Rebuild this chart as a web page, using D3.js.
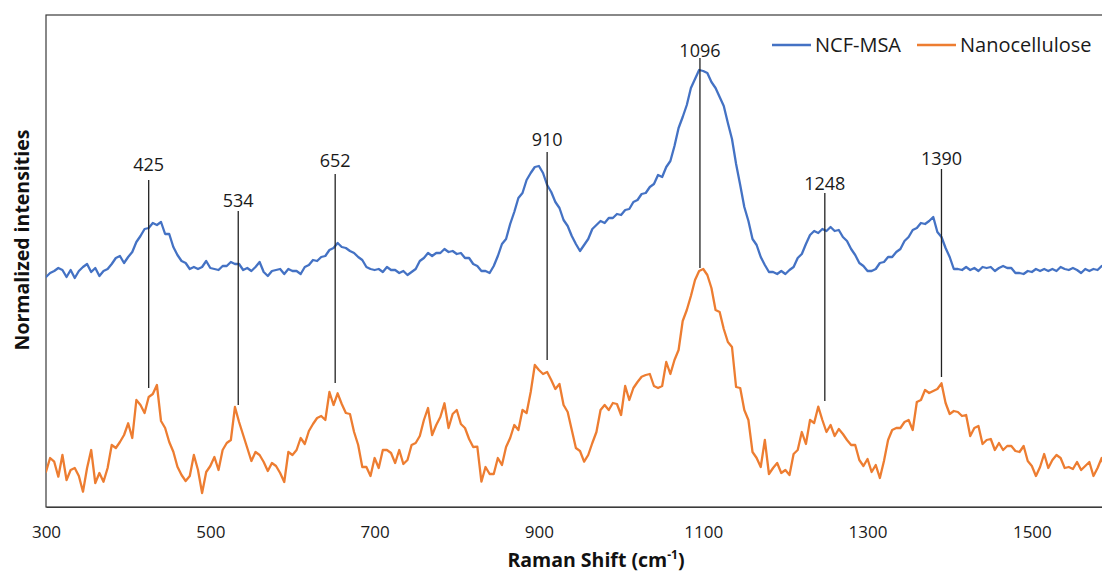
<!DOCTYPE html>
<html>
<head>
<meta charset="utf-8">
<script src="https://cdn.jsdelivr.net/npm/d3@7"></script>
<style>
  html, body { margin: 0; padding: 0; background: #fff; }
  svg { display: block; font-family: "Open Sans", "Noto Sans", sans-serif; }
</style>
</head>
<body>
<svg id="chart" width="1102" height="578"></svg>
<script>
// Raman spectra sampled every 5 cm-1 from 300 cm-1
const shiftStart = 300;
const shiftStep = 5;

// NCF-MSA spectrum (normalized intensity, offset upward)
const ncfMsa = [
  230, 234, 236, 239, 237, 230, 237, 229, 236, 240,
  243, 235, 239, 231, 236, 238, 243, 249, 251, 244,
  250, 255, 265, 271, 278, 279, 284, 282, 285, 273,
  273, 260, 252, 246, 244, 238, 240, 238, 240, 246,
  239, 238, 237, 241, 241, 245, 243, 243, 237, 239,
  236, 240, 245, 235, 231, 236, 237, 238, 233, 238,
  236, 236, 233, 240, 242, 247, 246, 250, 251, 257,
  259, 264, 260, 259, 256, 254, 250, 247, 240, 238,
  237, 238, 235, 240, 237, 237, 234, 236, 232, 235,
  238, 246, 249, 254, 251, 254, 254, 258, 255, 256,
  253, 254, 249, 249, 243, 241, 236, 236, 234, 241,
  251, 263, 268, 283, 295, 309, 314, 327, 334, 340,
  341, 334, 322, 315, 305, 299, 287, 281, 271, 263,
  256, 262, 268, 278, 282, 286, 284, 289, 289, 293,
  292, 297, 298, 305, 307, 313, 314, 320, 323, 332,
  330, 340, 346, 361, 379, 390, 402, 419, 428, 437,
  436, 434, 425, 419, 410, 401, 384, 368, 343, 322,
  300, 286, 268, 262, 250, 242, 235, 235, 233, 236,
  233, 237, 240, 249, 253, 263, 272, 276, 274, 278,
  276, 280, 276, 277, 270, 266, 258, 252, 244, 241,
  236, 236, 238, 244, 245, 250, 250, 255, 258, 266,
  270, 277, 279, 284, 283, 286, 290, 275, 270, 259,
  250, 238, 238, 237, 240, 237, 239, 236, 240, 239,
  240, 236, 239, 241, 239, 239, 234, 234, 233, 236,
  235, 238, 236, 238, 236, 238, 236, 240, 238, 237,
  239, 237, 234, 238, 236, 238, 237, 241, 239
];

// Nanocellulose spectrum (normalized intensity)
const nanocellulose = [
  35.3, 49, 45.3, 30.3, 52, 27, 37, 39, 31, 15.3,
  39, 57, 24, 34, 25.3, 39, 62, 59, 65, 72,
  83.7, 69, 107, 102, 94, 110, 113, 122, 86, 79,
  65, 55.3, 40.3, 32, 26, 31, 52, 37, 14, 35,
  41, 50, 37, 57, 64, 67, 100, 85, 72, 59,
  46, 55, 52, 45, 36, 44, 41, 34, 25, 55,
  52, 57, 69, 63, 76, 83, 89, 91, 87, 115,
  102, 113.7, 103, 94, 93, 75, 62, 40, 40, 31,
  49, 39, 57, 57, 54, 44, 57, 43, 47, 62,
  64, 71, 87, 99, 72, 82, 90, 103.7, 79, 93,
  97, 83, 79, 68, 60, 60.3, 25.3, 40, 33, 33,
  49, 42, 60, 69, 82, 77, 97, 94, 115, 142,
  137, 133, 135, 127, 118, 123, 102, 95, 77, 59,
  56, 45.3, 52, 64, 75, 97, 102, 97, 104, 103,
  92, 121, 107, 119, 125, 130.3, 132, 133, 121, 119,
  121, 145, 133, 147, 157, 186, 197, 211, 227, 236,
  238, 232, 219, 197, 195, 178, 165, 160, 120, 119,
  97, 87, 55, 49, 40, 67, 33, 39, 44, 34,
  37, 32, 53, 57, 75, 63, 87, 84, 100.3, 87,
  75, 82, 71, 78, 73, 67, 62, 62, 47, 41,
  48, 35, 42, 29, 46, 67, 77, 79, 79, 85,
  87, 77, 105, 107, 117, 114, 116, 118, 123.7, 104,
  93, 96, 95, 91, 92, 71, 79, 81, 63, 67,
  68, 57, 64, 57, 61, 61, 56, 55, 61, 46,
  41, 31, 40, 53, 39, 47, 52, 49, 39, 40,
  38, 45, 37, 41, 45, 31, 39, 49, 35
];

// Assigned band positions (cm-1) with the leader line extent in intensity units
const peakShifts = [425, 534, 652, 910, 1096, 1248, 1390];
const leaderTop = [327, 296, 333, 355, 449, 314, 338];
const leaderBottom = [119, 102, 124, 147, 239, 106, 130];
const labelLevel = [336, 300, 340, 361, 450, 317, 342];

const xTicks = [300, 500, 700, 900, 1100, 1300, 1500];
const seriesNames = ["NCF-MSA", "Nanocellulose"];
const seriesColors = ["#4472C4", "#ED7D31"];

const svg = d3.select("#chart");
const plot = { left: 46, top: 15, right: 1114, bottom: 507 };

const x = d3.scaleLinear().domain([300, 1600]).range([plot.left, plot.right]);
const y = d3.scaleLinear().domain([0, 492]).range([plot.bottom, plot.top]);

svg.append("defs").append("clipPath").attr("id", "plot-clip")
  .append("rect")
  .attr("x", plot.left).attr("y", plot.top)
  .attr("width", plot.right - plot.left).attr("height", plot.bottom - plot.top);

// Plot frame
svg.append("rect")
  .attr("x", plot.left).attr("y", plot.top)
  .attr("width", plot.right - plot.left).attr("height", plot.bottom - plot.top)
  .attr("fill", "none").attr("stroke", "#3a3a3a").attr("stroke-width", 1.2);

// X axis
const xAxis = svg.append("g")
  .attr("transform", `translate(0,${plot.bottom})`)
  .call(d3.axisBottom(x).tickValues(xTicks).tickSize(0).tickPadding(0).tickFormat(d3.format("d")));
xAxis.select(".domain").attr("stroke", "#3a3a3a").attr("stroke-width", 1.2);
xAxis.selectAll("text")
  .attr("y", 31).attr("dy", 0)
  .attr("fill", "#1a1a1a")
  .style("font-size", "17px")
  .style("font-family", "'Open Sans', sans-serif");

// Axis titles
const xTitle = svg.append("text")
  .attr("x", 596).attr("y", 567)
  .attr("text-anchor", "middle")
  .attr("fill", "#111")
  .style("font-size", "19.5px").style("font-weight", "bold");
xTitle.append("tspan").text("Raman Shift (cm");
xTitle.append("tspan").attr("dy", -8).style("font-size", "12px").text("-1");
xTitle.append("tspan").attr("dy", 8).text(")");

svg.append("text")
  .attr("transform", "translate(29,240) rotate(-90)")
  .attr("text-anchor", "middle")
  .attr("fill", "#111")
  .style("font-size", "19.5px").style("font-weight", "bold")
  .text("Normalized intensities");

// Spectra
const line = d3.line()
  .x((d, i) => x(shiftStart + i * shiftStep))
  .y(d => y(d));

const spectra = svg.append("g").attr("clip-path", "url(#plot-clip)");
[ncfMsa, nanocellulose].forEach((values, s) => {
  spectra.append("path")
    .datum(values)
    .attr("d", line)
    .attr("fill", "none")
    .attr("stroke", seriesColors[s])
    .attr("stroke-width", 2.3)
    .attr("stroke-linejoin", "round")
    .attr("stroke-linecap", "round");
});

// Band leader lines and labels
const bands = svg.append("g");
peakShifts.forEach((p, i) => {
  bands.append("line")
    .attr("x1", x(p)).attr("x2", x(p))
    .attr("y1", y(leaderTop[i])).attr("y2", y(leaderBottom[i]))
    .attr("stroke", "#222").attr("stroke-width", 1.3);
  bands.append("text")
    .attr("x", x(p)).attr("y", y(labelLevel[i]))
    .attr("text-anchor", "middle")
    .attr("fill", "#1a1a1a")
    .style("font-size", "18px")
    .text(p);
});

// Legend
const legend = svg.append("g");
const legendX = [772, 917];
seriesNames.forEach((name, i) => {
  legend.append("line")
    .attr("x1", legendX[i]).attr("x2", legendX[i] + 39)
    .attr("y1", 45).attr("y2", 45)
    .attr("stroke", seriesColors[i]).attr("stroke-width", 2.3);
  legend.append("text")
    .attr("x", legendX[i] + 43).attr("y", 52)
    .attr("fill", "#1a1a1a")
    .style("font-size", "20px")
    .text(name);
});
</script>
</body>
</html>
